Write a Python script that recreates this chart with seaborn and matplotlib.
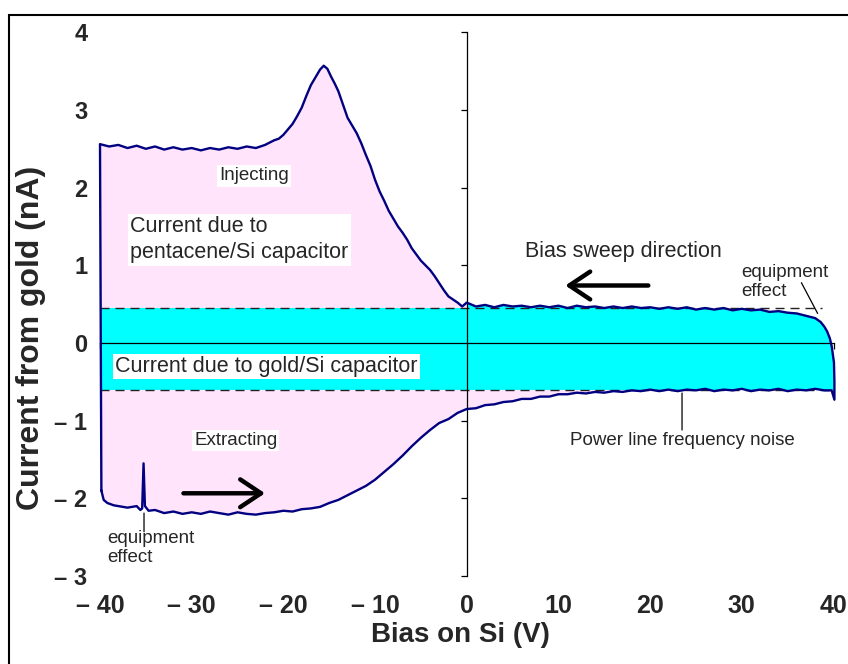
import matplotlib
matplotlib.use("Agg")
import matplotlib.pyplot as plt
import seaborn as sns
from matplotlib.patches import Rectangle

# ---------------- data ----------------
# upper branch (sweep from +40 V to -40 V), listed with ascending bias
upper_x = [-40, -39, -38, -37, -36, -35, -34, -33, -32, -31, -30, -29, -28, -27,
           -26, -25, -24, -23, -22, -21, -20.5, -20, -19.5, -19, -18.5, -18,
           -17.5, -17, -16.5, -16, -15.6, -15.2, -14.8, -14.4, -14, -13.5, -13,
           -12.5, -12, -11.5, -11, -10.5, -10, -9.5, -9, -8.5, -8, -7.5, -7,
           -6.5, -6, -5.5, -5, -4.5, -4, -3.5, -3, -2.5, -2, -1.5, -1, -0.5, 0,
           1, 2, 3, 4, 5, 6, 7, 8, 9, 10, 11, 12, 13, 14, 15, 16, 17, 18, 19,
           20, 21, 22, 23, 24, 25, 26, 27, 28, 29, 30, 31, 32, 33, 34, 35, 36,
           37, 38, 38.6, 39, 39.3, 39.6, 39.8, 40.05, 40.1]
upper_y = [2.56, 2.53, 2.55, 2.51, 2.54, 2.50, 2.53, 2.49, 2.52, 2.49, 2.51, 2.48,
           2.51, 2.49, 2.52, 2.50, 2.53, 2.51, 2.55, 2.61, 2.63, 2.68, 2.75, 2.82,
           2.92, 3.03, 3.18, 3.32, 3.42, 3.52, 3.57, 3.53, 3.43, 3.34, 3.24, 3.07,
           2.90, 2.80, 2.70, 2.57, 2.42, 2.28, 2.10, 1.95, 1.83, 1.70, 1.60, 1.50,
           1.42, 1.33, 1.22, 1.14, 1.06, 1.00, 0.94, 0.86, 0.77, 0.68, 0.60, 0.56,
           0.52, 0.47, 0.52,
           0.47, 0.49, 0.46, 0.49, 0.47, 0.48, 0.46, 0.48, 0.46, 0.48, 0.45, 0.48,
           0.46, 0.47, 0.45, 0.47, 0.45, 0.47, 0.45, 0.46, 0.44, 0.46, 0.44, 0.46,
           0.43, 0.45, 0.43, 0.45, 0.42, 0.44, 0.42, 0.43, 0.40, 0.41, 0.39,
           0.38, 0.35, 0.32, 0.27, 0.21, 0.15, 0.06, -0.04, -0.25, -0.50]

# lower branch (sweep from -40 V to +40 V)
lower_x = [-39.85, -39.6, -39.2, -38.5, -38, -37, -36, -35.6, -35.4, -35.25, -35.1,
           -34.7, -34, -33, -32, -31, -30, -29, -28, -27, -26, -25, -24, -23, -22,
           -21, -20, -19, -18, -17, -16, -15, -14, -13, -12, -11, -10, -9, -8, -7,
           -6, -5, -4, -3, -2, -1, 0, 1, 2, 3, 4, 5, 6, 7, 8, 9, 10, 11, 12, 13,
           14, 15, 16, 17, 18, 19, 20, 21, 22, 23, 24, 25, 26, 27, 28, 29, 30, 31,
           32, 33, 34, 35, 36, 37, 38, 39, 39.8, 40.1]
lower_y = [-1.90, -2.02, -2.06, -2.09, -2.10, -2.12, -2.10, -2.15, -2.13, -1.55, -2.10,
           -2.16, -2.15, -2.19, -2.17, -2.20, -2.18, -2.20, -2.17, -2.19, -2.21, -2.18,
           -2.20, -2.21, -2.19, -2.18, -2.16, -2.17, -2.14, -2.13, -2.11, -2.06, -2.02,
           -1.96, -1.90, -1.84, -1.76, -1.66, -1.56, -1.45, -1.33, -1.22, -1.12, -1.03,
           -0.98, -0.90, -0.85, -0.84, -0.80, -0.79, -0.76, -0.75, -0.72, -0.72, -0.69,
           -0.69, -0.66, -0.66, -0.64, -0.65, -0.63, -0.64, -0.62, -0.63, -0.61, -0.62,
           -0.60, -0.62, -0.60, -0.62, -0.60, -0.61, -0.59, -0.62, -0.60, -0.61, -0.59,
           -0.62, -0.60, -0.61, -0.59, -0.62, -0.60, -0.61, -0.59, -0.61, -0.61, -0.73]

# gold/Si capacitor current levels (dashed lines)
gold_low, gold_high = -0.60, 0.45

xticks = [-40, -30, -20, -10, 0, 10, 20, 30, 40]
xtick_labels = ["\u2013 40", "\u2013 30", "\u2013 20", "\u2013 10", "0", "10", "20", "30", "40"]
yticks = [-3, -2, -1, 0, 1, 2, 3, 4]
ytick_labels = ["\u2013 3", "\u2013 2", "\u2013 1", "0", "1", "2", "3", "4"]

# ---------------- style ----------------
sns.set_theme(style="white")
plt.rcParams["font.family"] = ["Liberation Sans", "DejaVu Sans"]

PINK = "#ffe4fb"
CYAN = "#00ffff"
NAVY = "#000080"

fig = plt.figure(figsize=(8.48, 6.64), dpi=100)
pos = [100 / 848, 88 / 664, 733.5 / 848, 543.7 / 664]
ax = fig.add_axes(pos)
ax.set_xlim(-40, 40)
ax.set_ylim(-3, 4)
ax.patch.set_alpha(0)

# closed hysteresis loop
loop_x = lower_x + upper_x[::-1] + [lower_x[0]]
loop_y = lower_y + upper_y[::-1] + [lower_y[0]]

# pink: whole loop area
ax.fill(loop_x, loop_y, color=PINK, lw=0, zorder=1)
# cyan: gold/Si capacitor part
c1 = ax.fill(loop_x, loop_y, color=CYAN, lw=0, zorder=1.2)[0]
c1.set_clip_path(Rectangle((-41, gold_low), 41, gold_high - gold_low, transform=ax.transData))
c2 = ax.fill(loop_x, loop_y, color=CYAN, lw=0, zorder=1.2)[0]
c2.set_clip_path(Rectangle((0, gold_low), 41, 3, transform=ax.transData))

# dashed levels
ax.hlines(gold_high, -40, 38.8, colors="#222222", lw=1.0, linestyles=(0, (6.5, 4.3)), zorder=2)
ax.hlines(gold_low, -40, 40, colors="#222222", lw=1.0, linestyles=(0, (6.5, 4.3)), zorder=2)

# the measured curve
sns.lineplot(x=loop_x, y=loop_y, sort=False, estimator=None, color=NAVY,
             lw=1.7, ax=ax, zorder=4, clip_on=False)

# axes crossing at zero
for s in ["top", "right"]:
    ax.spines[s].set_visible(False)
ax.spines["left"].set_position(("data", 0))
ax.spines["bottom"].set_position(("data", 0))
for s in ["left", "bottom"]:
    ax.spines[s].set_color("black")
    ax.spines[s].set_linewidth(0.9)
    ax.spines[s].set_zorder(3)
ax.set_xticks(xticks)
ax.set_yticks(yticks)
ax.tick_params(axis="both", direction="out", length=4.5, width=0.9, color="black",
               bottom=True, left=True, labelbottom=False, labelleft=False)
ax.set_xlabel("")
ax.set_ylabel("")

# label axes (tick labels at the outer edges)
ax2 = fig.add_axes(pos, frameon=False)
ax2.set_xlim(-40, 40)
ax2.set_ylim(-3, 4)
ax2.set_xticks(xticks)
ax2.set_xticklabels(xtick_labels, fontsize=18, fontweight="bold")
ax2.set_yticks(yticks)
ax2.set_yticklabels(ytick_labels, fontsize=17, fontweight="bold")
ax2.tick_params(axis="x", length=0, pad=13)
ax2.tick_params(axis="y", length=0, pad=9)
ax2.set_xlabel("Bias on Si (V)", fontsize=20, fontweight="bold")
ax2.set_ylabel("Current from gold (nA)", fontsize=23, fontweight="bold")
ax2.xaxis.set_label_coords(0.492, -0.085)
ax2.yaxis.set_label_coords(-0.074, 0.438)
ax2.grid(False)

# annotations
box = dict(facecolor="white", edgecolor="none", pad=1.5)
ax.text(-23.2, 2.15, "Injecting", fontsize=13.5, ha="center", va="center", bbox=box, zorder=6)
ax.text(-36.7, 1.33, "Current due to\npentacene/Si capacitor", fontsize=15.5, ha="left",
        va="center", linespacing=1.35, bbox=box, zorder=6)
ax.text(-38.35, -0.30, "Current due to gold/Si capacitor", fontsize=15.5, ha="left",
        va="center", bbox=box, zorder=6)
ax.text(-25.2, -1.25, "Extracting", fontsize=13.5, ha="center", va="center", bbox=box, zorder=6)
ax.text(6.3, 1.18, "Bias sweep direction", fontsize=15.5, ha="left", va="center", zorder=6)

ax.text(-39.2, -2.64, "equipment\neffect", fontsize=13.5, ha="left", va="center",
        linespacing=1.15, zorder=6)
ax.annotate("", xy=(-35.2, -2.19), xytext=(-35.2, -2.43),
            arrowprops=dict(arrowstyle="-", lw=0.9, color="black", shrinkA=0, shrinkB=0), zorder=6)

ax.text(29.95, 0.785, "equipment\neffect", fontsize=13.5, ha="left", va="center",
        linespacing=1.15, zorder=6)
ax.annotate("", xy=(38.27, 0.38), xytext=(36.5, 0.776),
            arrowprops=dict(arrowstyle="-", lw=0.9, color="black", shrinkA=0, shrinkB=0), zorder=6)

ax.text(23.5, -1.25, "Power line frequency noise", fontsize=13.5, ha="center", va="center", zorder=6)
ax.annotate("", xy=(23.48, -0.644), xytext=(23.48, -1.12),
            arrowprops=dict(arrowstyle="-", lw=0.9, color="black", shrinkA=0, shrinkB=0), zorder=6)

# sweep direction arrows
ax.annotate("", xy=(10.75, 0.74), xytext=(19.8, 0.74),
            arrowprops=dict(arrowstyle="->,head_length=0.75,head_width=0.5", lw=3.2,
                            color="black", shrinkA=0, shrinkB=0, mutation_scale=20), zorder=6)
ax.annotate("", xy=(-22.0, -1.935), xytext=(-30.9, -1.935),
            arrowprops=dict(arrowstyle="->,head_length=0.75,head_width=0.5", lw=3.2,
                            color="black", shrinkA=0, shrinkB=0, mutation_scale=20), zorder=6)

# outer frame of the figure
fig.add_artist(Rectangle((8.5 / 848, -0.05), 1.2, 1.05 - 14.5 / 664, transform=fig.transFigure,
                         fill=False, ec="black", lw=1.5))

fig.savefig("out.png", dpi=100)
